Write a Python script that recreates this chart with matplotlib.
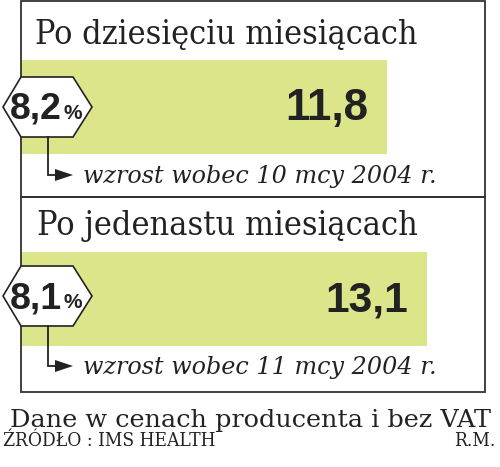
import matplotlib
matplotlib.use("Agg")
import matplotlib.pyplot as plt
from matplotlib.patches import Polygon, Rectangle

# Data
titles = ["Po dziesięciu miesiącach", "Po jedenastu miesiącach"]
values = [11.8, 13.1]
value_labels = ["11,8", "13,1"]
growth = ["8,2", "8,1"]
notes = ["wzrost wobec 10 mcy 2004 r.", "wzrost wobec 11 mcy 2004 r."]
footer = "Dane w cenach producenta i bez VAT"
source = "ŹRÓDŁO : IMS HEALTH"
author = "R.M."

W, H = 500, 467
bar_color = "#dde58a"
ink = "#222222"
px_per_unit = 31.0

fig = plt.figure(figsize=(W / 100, H / 100), dpi=100)
fig.patch.set_facecolor("white")
renderer = fig.canvas.get_renderer()


def fit(t, width_px):
    # scale font so the text spans the given width in pixels
    w = t.get_window_extent(renderer=renderer).width
    t.set_fontsize(t.get_fontsize() * width_px / w)
    return t


# bar axes: x in data units, y in pixels
left_px, right_px = 21, 485
bax = fig.add_axes([left_px / W, 0, (right_px - left_px) / W, 1])
bax.set_xlim(0, (right_px - left_px) / px_per_unit)
bax.set_ylim(H, 0)
bax.axis("off")

bar_y = [107, 299]
bars = bax.barh(bar_y, values, height=94, color=bar_color, left=0, zorder=1)
for b, lab in zip(bars, value_labels):
    t = bax.text(b.get_width() - 0.6, b.get_y() + b.get_height() / 2 + 13, lab,
                 ha="right", va="baseline", fontsize=27, fontweight="bold",
                 color=ink, family="Liberation Sans")
    fit(t, 83)

# overlay axes in pixel coords
ax = fig.add_axes([0, 0, 1, 1])
ax.set_xlim(0, W)
ax.set_ylim(H, 0)
ax.axis("off")
ax.patch.set_alpha(0)

# frames
for top, bottom in [(1, 197), (197, 392)]:
    ax.add_patch(Rectangle((left_px, top), right_px - left_px, bottom - top,
                           fill=False, edgecolor="#333333", lw=1.3, zorder=2))

title_x = [35, 37]
title_y = [44, 235]
hex_y = [107, 296]
note_y = [175, 366]
for i in range(2):
    t = ax.text(title_x[i], title_y[i], titles[i], ha="left", va="baseline",
                fontsize=24, color=ink, family="DejaVu Serif", stretch="condensed")
    fit(t, 418 - title_x[i])
    cy = hex_y[i]
    hexagon = Polygon([(3, cy), (21, cy - 30), (73, cy - 30), (92, cy),
                       (73, cy + 30), (21, cy + 30)], closed=True,
                      facecolor="white", edgecolor=ink, lw=1.2, zorder=3)
    ax.add_patch(hexagon)
    t = ax.text(62, cy + 12, growth[i], ha="right", va="baseline", fontsize=26,
                fontweight="bold", color=ink, family="Liberation Sans", zorder=4)
    fit(t, 52)
    ax.text(63, cy + 12, "%", ha="left", va="baseline", fontsize=15,
            fontweight="bold", color=ink, family="Liberation Sans", zorder=4)
    # connector and arrow
    ax.plot([48, 48, 58], [cy + 30, note_y[i], note_y[i]], color=ink, lw=1.3,
            zorder=3, solid_joinstyle="miter")
    ax.add_patch(Polygon([(55, note_y[i] - 6), (73, note_y[i]), (55, note_y[i] + 6)],
                         closed=True, facecolor=ink, edgecolor="none", zorder=3))
    t = ax.text(83, note_y[i] + 8, notes[i], ha="left", va="baseline", fontsize=18,
                style="italic", color=ink, family="DejaVu Serif")
    fit(t, 354)

t = ax.text(10, 427, footer, ha="left", va="baseline", fontsize=20,
            color=ink, family="DejaVu Serif")
fit(t, 480)
t = ax.text(3, 446, source, ha="left", va="baseline", fontsize=13,
            color=ink, family="DejaVu Serif", stretch="condensed")
fit(t, 212)
ax.text(495, 446, author, ha="right", va="baseline", fontsize=t.get_fontsize(),
        color=ink, family="DejaVu Serif", stretch="condensed")

fig.savefig("out.png", dpi=100, facecolor="white")
